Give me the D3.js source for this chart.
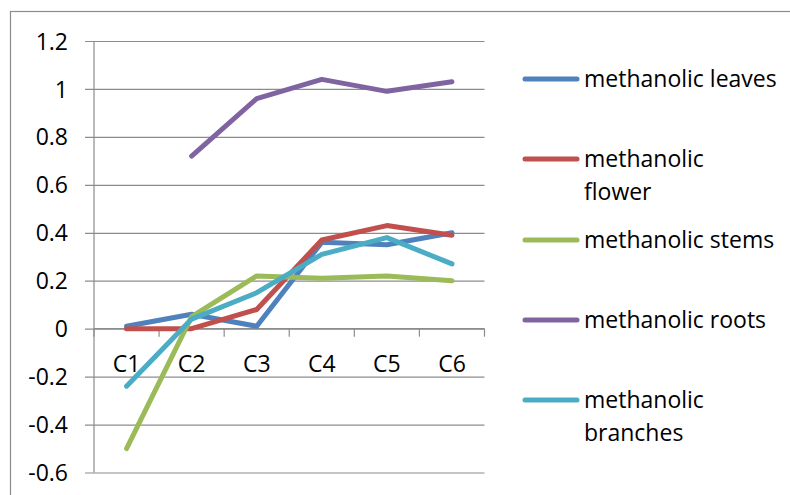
<!DOCTYPE html>
<html>
<head>
<meta charset="utf-8">
<script src="https://cdn.jsdelivr.net/npm/d3@7"></script>
<style>
  html, body { margin: 0; padding: 0; background: #fff; }
  svg { display: block; }
  text { font-family: "Open Sans", sans-serif; fill: #000; }
</style>
</head>
<body>
<svg id="chart" width="790" height="495"></svg>
<script>
// Categories along the x axis
const categories = ["C1", "C2", "C3", "C4", "C5", "C6"];

// Series names (legend labels, with manual line breaks)
const seriesNames = [
  "methanolic leaves",
  "methanolic flower",
  "methanolic stems",
  "methanolic roots",
  "methanolic branches"
];
const legendLines = [
  ["methanolic leaves"],
  ["methanolic", "flower"],
  ["methanolic stems"],
  ["methanolic roots"],
  ["methanolic", "branches"]
];

// Series values per category (null = no value)
const leaves   = [0.01, 0.06, 0.01, 0.36, 0.35, 0.40];
const flower   = [0.00, 0.00, 0.08, 0.37, 0.43, 0.39];
const stems    = [-0.50, 0.05, 0.22, 0.21, 0.22, 0.20];
const roots    = [null, 0.72, 0.96, 1.04, 0.99, 1.03];
const branches = [-0.24, 0.04, 0.15, 0.31, 0.38, 0.27];

// Y tick values
const yTicks = [1.2, 1, 0.8, 0.6, 0.4, 0.2, 0, -0.2, -0.4, -0.6];

const colors = ["#4F81BD", "#C0504D", "#9BBB59", "#8064A2", "#4BACC6"];
const seriesValues = [leaves, flower, stems, roots, branches];

const svg = d3.select("#chart");
const gridColor = "#8c8c8c";
const fontSize = "23px";

// Outer chart frame (right and bottom edges run past the view)
svg.append("rect")
  .attr("x", 10.5).attr("y", 11.5)
  .attr("width", 800).attr("height", 500)
  .attr("fill", "none").attr("stroke", gridColor).attr("stroke-width", 1.2);

const plotLeft = 94, plotRight = 484.5;
const y = d3.scaleLinear().domain([-0.6, 1.2]).range([472.5, 41]);
const x = d3.scaleBand().domain(categories).range([plotLeft, plotRight]).paddingInner(0).paddingOuter(0);
const xc = c => x(c) + x.bandwidth() / 2;

// Horizontal gridlines with left tick marks
const yAxis = d3.axisLeft(y)
  .tickValues(yTicks)
  .tickSize(plotRight - plotLeft + 9)
  .tickFormat(d => String(+d.toFixed(1)));
const gy = svg.append("g")
  .attr("transform", `translate(${plotRight},0)`)
  .call(yAxis);
gy.select(".domain").remove();
gy.selectAll(".tick line").attr("stroke", gridColor).attr("stroke-width", 1.2);
gy.selectAll(".tick text")
  .attr("x", -(plotRight - 68))
  .attr("dy", "0.35em")
  .style("font-size", fontSize)
  .style("font-family", "\"Open Sans\", sans-serif")
  .attr("text-anchor", "end");

// Vertical value axis line
svg.append("line")
  .attr("x1", plotLeft).attr("x2", plotLeft)
  .attr("y1", y(1.2)).attr("y2", y(-0.6))
  .attr("stroke", gridColor).attr("stroke-width", 1.2);

// Category axis at zero with downward ticks between categories
const xAxis = d3.axisBottom(x).tickSize(0).tickFormat(d => d);
const gx = svg.append("g")
  .attr("transform", `translate(0,${y(0)})`)
  .call(xAxis);
gx.select(".domain").remove();
gx.selectAll(".tick text")
  .attr("y", 43)
  .attr("dy", 0)
  .style("font-size", fontSize)
  .style("font-family", "\"Open Sans\", sans-serif");

svg.append("line")
  .attr("x1", plotLeft).attr("x2", plotRight)
  .attr("y1", y(0)).attr("y2", y(0))
  .attr("stroke", gridColor).attr("stroke-width", 1.2);
svg.append("g").selectAll("line")
  .data(categories.map(c => x(c) + x.bandwidth()).concat([plotLeft]))
  .join("line")
  .attr("x1", d => d).attr("x2", d => d)
  .attr("y1", y(0)).attr("y2", y(0) + 8)
  .attr("stroke", gridColor).attr("stroke-width", 1.2);

// Series lines
const line = d3.line()
  .defined(d => d.v !== null)
  .x(d => xc(d.c))
  .y(d => y(d.v));

svg.append("g").selectAll("path")
  .data(seriesValues)
  .join("path")
  .attr("d", vals => line(vals.map((v, i) => ({ c: categories[i], v }))))
  .attr("fill", "none")
  .attr("stroke", (d, i) => colors[i])
  .attr("stroke-width", 5)
  .attr("stroke-linejoin", "round")
  .attr("stroke-linecap", "round");

// Legend
const legendY = [79, 159, 240, 320, 400];
const lg = svg.append("g").selectAll("g")
  .data(seriesNames)
  .join("g")
  .attr("transform", (d, i) => `translate(0,${legendY[i]})`);
lg.append("line")
  .attr("x1", 525).attr("x2", 577)
  .attr("y1", 0).attr("y2", 0)
  .attr("stroke", (d, i) => colors[i])
  .attr("stroke-width", 5)
  .attr("stroke-linecap", "round");
lg.each(function(d, i) {
  const t = d3.select(this).append("text")
    .attr("x", 584)
    .attr("y", 0)
    .style("font-size", fontSize);
  legendLines[i].forEach((s, k) => {
    t.append("tspan")
      .attr("x", 584)
      .attr("y", k * 33)
      .attr("dy", "0.35em")
      .text(s);
  });
});
</script>
</body>
</html>
